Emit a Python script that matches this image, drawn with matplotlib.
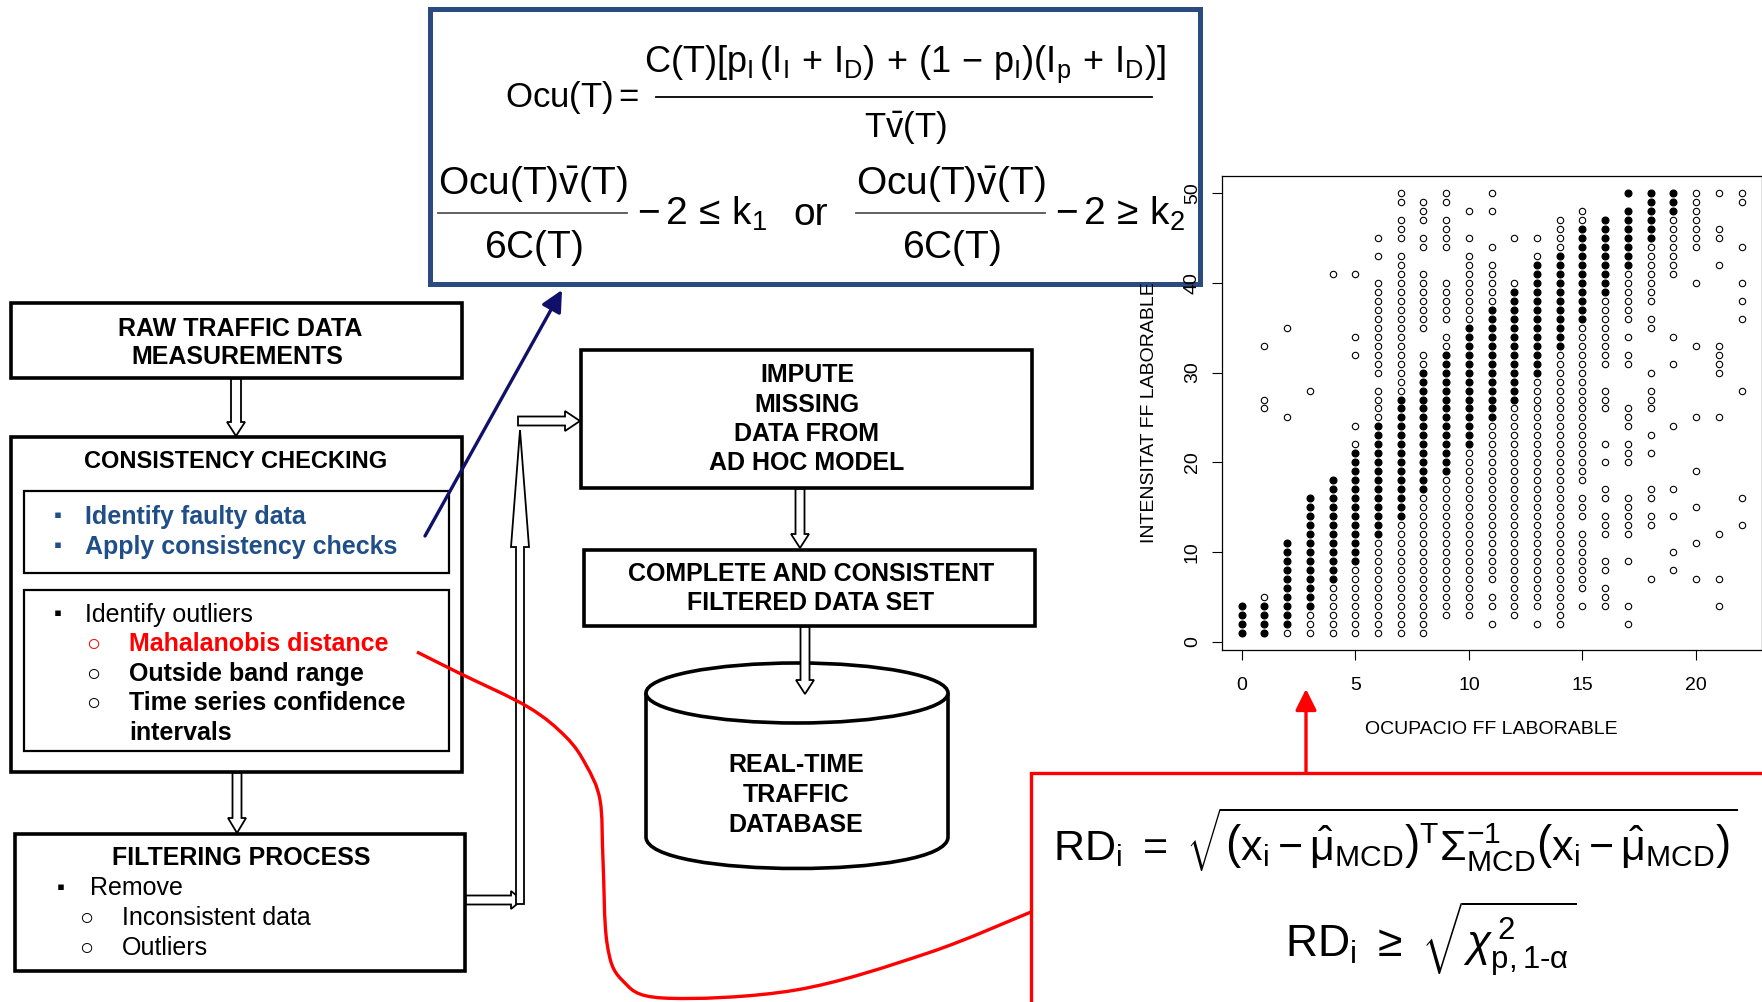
import matplotlib
matplotlib.use("Agg")
import matplotlib.pyplot as plt
from matplotlib.patches import Rectangle, Ellipse, FancyArrow, PathPatch
from matplotlib.path import Path
import numpy as np

# ---------------- data ----------------
occupancy = [0, 1, 2, 3, 4, 5, 6, 7, 8, 9, 10, 11, 12, 13, 14, 15, 16, 17, 18, 19, 20, 21, 22]

# intensities drawn as dense (filled-looking) marks, one list per occupancy value
dense_intensity = [
    [1, 2, 3, 4],
    [1, 2, 3, 4],
    [2, 3, 4, 5, 6, 7, 8, 9, 10, 11],
    [4, 5, 6, 7, 8, 9, 10, 11, 12, 13, 14, 15, 16],
    [7, 8, 9, 10, 11, 12, 13, 14, 15, 16, 17, 18],
    [9, 10, 11, 12, 13, 14, 15, 16, 17, 18, 19, 20, 21],
    [12, 13, 14, 15, 16, 17, 18, 19, 20, 21, 22, 23, 24],
    [14, 15, 16, 17, 18, 19, 20, 21, 22, 23, 24, 25, 26, 27],
    [17, 18, 19, 20, 21, 22, 23, 24, 25, 26, 27, 28, 29, 30],
    [19, 20, 21, 22, 23, 24, 25, 26, 27, 28, 29, 30, 31, 32],
    [22, 23, 24, 25, 26, 27, 28, 29, 30, 31, 32, 33, 34, 35],
    [25, 26, 27, 28, 29, 30, 31, 32, 33, 34, 35, 36, 37],
    [27, 28, 29, 30, 31, 32, 33, 34, 35, 36, 37, 38, 39],
    [30, 31, 32, 33, 34, 35, 36, 37, 38, 39, 40, 41, 42],
    [33, 34, 35, 36, 37, 38, 39, 40, 41, 42, 43],
    [36, 37, 38, 39, 40, 41, 42, 43, 44, 45, 46],
    [39, 40, 41, 42, 43, 44, 45, 46, 47],
    [42, 43, 44, 45, 46, 47, 48, 50],
    [45, 46, 47, 48, 49, 50],
    [48, 49, 50],
    [],
    [],
    [],
]

# intensities drawn as single open circles, one list per occupancy value
sparse_intensity = [
    [],
    [5, 26, 27, 33],
    [1, 25, 35],
    [1, 2, 3, 28],
    [1, 2, 3, 4, 5, 6, 41],
    [1, 2, 3, 4, 5, 6, 7, 8, 22, 24, 32, 34, 41],
    [1, 2, 3, 4, 5, 6, 7, 8, 9, 10, 11, 25, 26, 27, 28, 30, 31, 32, 33, 34, 35, 36, 37, 38, 39, 40, 43, 45],
    [1, 2, 3, 4, 5, 6, 7, 8, 9, 10, 11, 12, 13, 28, 29, 30, 31, 32, 33, 34, 35, 36, 37, 38, 39, 40, 41, 42, 43,
     45, 46, 47, 49, 50],
    [1, 2, 3, 4, 5, 6, 7, 8, 9, 10, 11, 12, 13, 14, 15, 16, 31, 32, 35, 36, 37, 38, 39, 40, 41, 44, 45, 47, 48, 49],
    [3, 4, 5, 6, 7, 8, 9, 10, 11, 12, 13, 14, 15, 16, 17, 18, 33, 34, 36, 37, 38, 39, 40, 44, 45, 46, 47, 49, 50],
    [3, 4, 5, 6, 7, 8, 9, 10, 11, 12, 13, 14, 15, 16, 17, 18, 19, 20, 21, 36, 37, 38, 39, 40, 41, 42, 43, 45, 48],
    [2, 4, 5, 7, 8, 9, 10, 11, 12, 13, 14, 15, 16, 17, 18, 19, 20, 21, 22, 23, 24, 38, 39, 40, 41, 42, 44, 48, 50],
    [3, 4, 5, 6, 7, 8, 9, 10, 11, 12, 13, 14, 15, 16, 17, 18, 19, 20, 21, 22, 23, 24, 25, 26, 40, 45],
    [2, 4, 5, 6, 7, 8, 9, 10, 11, 12, 13, 14, 15, 16, 17, 18, 19, 20, 21, 22, 23, 24, 25, 26, 27, 28, 29, 43, 45],
    [2, 3, 4, 5, 6, 7, 8, 9, 10, 11, 12, 13, 14, 15, 16, 17, 18, 19, 20, 21, 22, 23, 24, 25, 26, 27, 28, 29, 30,
     31, 32, 44, 45, 46, 47],
    [4, 6, 7, 8, 9, 10, 11, 12, 14, 15, 16, 18, 19, 20, 21, 22, 23, 24, 25, 26, 27, 28, 29, 30, 31, 32, 33, 34, 35,
     47, 48],
    [4, 5, 6, 8, 9, 12, 13, 14, 16, 17, 20, 22, 26, 27, 28, 31, 32, 33, 34, 35, 36, 37, 38],
    [2, 4, 9, 12, 13, 14, 15, 16, 20, 21, 22, 24, 25, 26, 31, 32, 34, 36, 37, 38, 39, 40, 41],
    [7, 13, 14, 16, 17, 21, 23, 26, 27, 28, 30, 35, 36, 38, 39, 40, 41, 42, 43, 44],
    [8, 10, 14, 17, 24, 31, 34, 41, 42, 43, 44, 45, 46, 47],
    [7, 11, 15, 19, 25, 33, 40, 44, 45, 46, 47, 48, 49, 50],
    [4, 7, 12, 25, 30, 31, 32, 33, 42, 45, 46, 50],
    [13, 16, 28, 36, 38, 40, 44, 49, 50],
]

x_ticks = [0, 5, 10, 15, 20]
y_ticks = [0, 10, 20, 30, 40, 50]
x_label = "OCUPACIO FF LABORABLE"
y_label = "INTENSITAT FF LABORABLE"

# ---------------- style ----------------
FONT = ["Liberation Sans", "DejaVu Sans"]
plt.rcParams["font.family"] = FONT
plt.rcParams["mathtext.fontset"] = "custom"
plt.rcParams["mathtext.rm"] = "Liberation Sans"
plt.rcParams["mathtext.it"] = "Liberation Sans:italic"
plt.rcParams["mathtext.bf"] = "Liberation Sans:bold"
plt.rcParams["mathtext.sf"] = "Liberation Sans"
plt.rcParams["mathtext.default"] = "rm"

BLUE_TXT = "#1F4E89"
BOX_BLUE = "#2B4B80"
NAVY = "#10106B"
RED = "#FF0000"

W, H = 1762, 1002
fig = plt.figure(figsize=(W / 100, H / 100), dpi=100)
ax0 = fig.add_axes([0, 0, 1, 1])
ax0.set_xlim(0, W)
ax0.set_ylim(H, 0)
ax0.axis("off")


def rect(x0, y0, x1, y1, lw=2.6, color="black", z=2, fill="white"):
    ax0.add_patch(Rectangle((x0, y0), x1 - x0, y1 - y0, facecolor=fill, edgecolor=color, lw=lw, zorder=z))


def txt(x, y, s, size=18, weight="bold", color="black", ha="center", **kw):
    ax0.text(x, y, s, fontsize=size, fontweight=weight, color=color, ha=ha, va="center", zorder=10, **kw)


def hollow(x, y, dx, dy, width, hw, hl, z=6):
    ax0.add_patch(FancyArrow(x, y, dx, dy, width=width, head_width=hw, head_length=hl,
                             length_includes_head=True, facecolor="white", edgecolor="black", lw=1.3, zorder=z))


# ---------------- formula box (top) ----------------
rect(430, 9, 1200, 284, lw=3.6, color=BOX_BLUE, z=3)
FS1 = 25
ax0.text(505, 107, r"$Ocu(T) =$", fontsize=FS1, ha="left", va="baseline", zorder=10)
ax0.text(905, 72, r"$C(T)[p_I\,(I_I\,+\,I_D)\,+\,(1\,-\,p_I)(I_p\,+\,I_D)]$",
         fontsize=26, ha="center", va="baseline", zorder=10)
ax0.plot([656, 1152], [97, 97], color="black", lw=1.3, zorder=10)
ax0.text(905, 137, r"$T\bar{v}(T)$", fontsize=FS1, ha="center", va="baseline", zorder=10)

FS2 = 28
for cx, x0b, x1b in [(533, 438, 627), (951, 856, 1045)]:
    ax0.text(cx, 195, r"$Ocu(T)\bar{v}(T)$", fontsize=FS2, ha="center", va="baseline", zorder=10)
    ax0.plot([x0b, x1b], [213, 213], color="#555555", lw=1.3, zorder=10)
    ax0.text(cx, 258, r"$6C(T)$", fontsize=FS2, ha="center", va="baseline", zorder=10)
ax0.text(637, 225, r"$-\,2\,\leq\,k_1$", fontsize=FS2, ha="left", va="baseline", zorder=10)
ax0.text(793, 225, "or", fontsize=FS2, ha="left", va="baseline", zorder=10)
ax0.text(1055, 225, r"$-\,2\,\geq\,k_2$", fontsize=FS2, ha="left", va="baseline", zorder=10)

# ---------------- left flow boxes ----------------
rect(11, 303, 462, 378)
txt(240, 329, "RAW TRAFFIC DATA")
txt(237, 357, "MEASUREMENTS")

rect(11, 437, 462, 772)
txt(236, 462, "CONSISTENCY CHECKING", size=17)
rect(24, 491, 449, 573, lw=1.6)
txt(58, 517, "\u25aa", color=BLUE_TXT, size=16, family=FONT)
txt(85, 517, "Identify faulty data", color=BLUE_TXT, ha="left")
txt(58, 547, "\u25aa", color=BLUE_TXT, size=16, family=FONT)
txt(85, 547, "Apply consistency checks", color=BLUE_TXT, ha="left")

rect(24, 590, 449, 751, lw=1.6)
txt(58, 615, "\u25aa", size=16, family=FONT)
txt(85, 615, "Identify outliers", weight="normal", ha="left")
txt(93, 645, "\u25cb", size=17, weight="normal", color=RED, family=FONT)
txt(129, 644, "Mahalanobis distance", color=RED, ha="left")
txt(93, 675, "\u25cb", size=17, weight="normal", family=FONT)
txt(129, 674, "Outside band range", ha="left")
txt(93, 704, "\u25cb", size=17, weight="normal", family=FONT)
txt(129, 703, "Time series confidence", ha="left")
txt(129, 733, "intervals", ha="left")

rect(15, 834, 465, 971)
txt(241, 858, "FILTERING PROCESS")
txt(61, 888, "\u25aa", size=16, family=FONT)
txt(90, 888, "Remove", weight="normal", ha="left")
txt(86, 919, "\u25cb", size=17, weight="normal", family=FONT)
txt(122, 918, "Inconsistent data", weight="normal", ha="left")
txt(86, 949, "\u25cb", size=17, weight="normal", family=FONT)
txt(122, 948, "Outliers", weight="normal", ha="left")

# ---------------- middle boxes ----------------
rect(581, 350, 1032, 488)
for yy, s in zip([375, 405, 434, 463], ["IMPUTE", "MISSING", "DATA FROM", "AD HOC MODEL"]):
    txt(807, yy, s)
rect(584, 550, 1035, 626)
txt(811, 574, "COMPLETE AND CONSISTENT")
txt(811, 603, "FILTERED DATA SET")

# database cylinder
cx, cw = 797, 302
top_c, bot_c = 693, 837
body = Path([(cx - cw / 2, top_c), (cx - cw / 2, bot_c),
             (cx - cw / 2, bot_c + 42), (cx + cw / 2, bot_c + 42), (cx + cw / 2, bot_c),
             (cx + cw / 2, top_c), (cx - cw / 2, top_c)],
            [Path.MOVETO, Path.LINETO, Path.CURVE4, Path.CURVE4, Path.CURVE4, Path.LINETO, Path.LINETO])
ax0.add_patch(PathPatch(body, facecolor="white", edgecolor="none", zorder=2))
ax0.add_patch(PathPatch(Path(body.vertices[:6], body.codes[:6]), facecolor="none", edgecolor="black", lw=2.6, zorder=3))
ax0.add_patch(Ellipse((cx, top_c), cw, 60, facecolor="white", edgecolor="black", lw=2.6, zorder=4))
txt(796, 765, "REAL-TIME")
txt(796, 795, "TRAFFIC")
txt(796, 825, "DATABASE")

# ---------------- hollow arrows ----------------
hollow(236, 379, 0, 57, 10, 18, 14)
hollow(237, 773, 0, 60, 9, 18, 15)
hollow(800, 489, 0, 59, 9, 18, 14)
hollow(805, 627, 0, 67, 9, 18, 14, z=7)
hollow(466, 900, 56, 0, 9, 18, 11)
hollow(520, 904, 0, -474, 8, 18, 117)
hollow(518, 421, 62, 0, 9, 20, 15)

# ---------------- blue arrow to formula box ----------------
ax0.annotate("", xy=(562, 290), xytext=(425, 536),
             arrowprops=dict(arrowstyle="-|>", color=NAVY, lw=2.4, mutation_scale=32, shrinkA=0, shrinkB=0),
             zorder=12)

# ---------------- red formula box ----------------
rect(1031, 773, 1900, 1200, lw=2.4, color=RED, z=3)
ax0.text(1053, 860,
         r"$RD_i\ =\ \sqrt{\left(x_i-\hat{\mu}_{MCD}\right)^T\Sigma_{MCD}^{-1}\left(x_i-\hat{\mu}_{MCD}\right)}$",
         fontsize=31, ha="left", va="baseline", zorder=10)
ax0.text(1285, 957, r"$RD_i\ \geq\ \sqrt{\mathit{\chi}^{\,2}_{p,1\text{-}\alpha}}$",
         fontsize=32, ha="left", va="baseline", zorder=10)
ax0.annotate("", xy=(1306, 689), xytext=(1306, 773),
             arrowprops=dict(arrowstyle="-|>", color=RED, lw=2.4, mutation_scale=32, shrinkA=0, shrinkB=0),
             zorder=12)

# red curve from "Mahalanobis distance" to the red box
pts = np.array([(417, 652), (459, 673), (528, 707), (566, 737), (586, 765), (600, 800), (603, 860),
                (607, 943), (622, 980), (663, 998), (796, 990), (928, 953), (1031, 912)], dtype=float)
verts, codes = [tuple(pts[0])], [Path.MOVETO]
for i in range(len(pts) - 1):
    p0 = pts[i - 1] if i > 0 else pts[i]
    p1, p2 = pts[i], pts[i + 1]
    p3 = pts[i + 2] if i + 2 < len(pts) else pts[i + 1]
    verts += [tuple(p1 + (p2 - p0) / 6), tuple(p2 - (p3 - p1) / 6), tuple(p2)]
    codes += [Path.CURVE4] * 3
ax0.add_patch(PathPatch(Path(verts, codes), facecolor="none", edgecolor=RED, lw=2.4, zorder=11))

# ---------------- scatter plot ----------------
L, R, T, B = 1221.7, 1761.5, 175.7, 650.2
ax = fig.add_axes([L / W, 1 - B / H, (R - L) / W, (B - T) / H])
ax.set_facecolor("white")
for x, ys in zip(occupancy, sparse_intensity):
    ax.plot([x] * len(ys), ys, "o", mfc="none", mec="black", ms=4.6, mew=0.8, clip_on=False)
for x, ys in zip(occupancy, dense_intensity):
    ax.plot([x] * len(ys), ys, "o", mfc="black", mec="black", ms=5.0, mew=0.8, clip_on=False)
ax.set_xlim(-0.88, 22.88)
ax.set_ylim(-0.96, 51.96)
ax.set_xticks(x_ticks)
ax.set_yticks(y_ticks)
ax.tick_params(length=7, width=0.8, labelsize=14, pad=12)
ax.tick_params(axis="y", labelrotation=90, pad=8)
for lab in ax.get_yticklabels():
    lab.set_va("center")
for s in ax.spines.values():
    s.set_linewidth(0.9)
ax.text(1150, 413, y_label, transform=ax0.transData, rotation=90, ha="center", va="center", fontsize=14)
ax.text(1491, 729, x_label, transform=ax0.transData, ha="center", va="center", fontsize=14)

fig.savefig("out.png", dpi=100)
